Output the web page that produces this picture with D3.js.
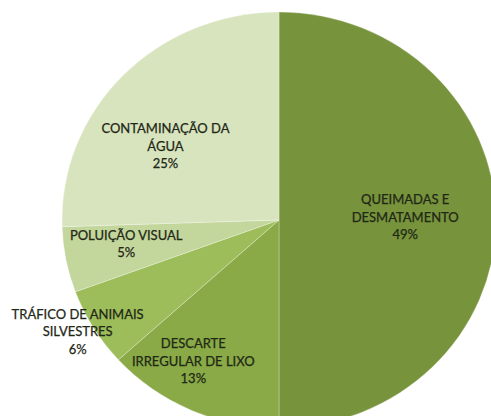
<!DOCTYPE html>
<html>
<head>
<meta charset="utf-8">
<script src="https://cdn.jsdelivr.net/npm/d3@7/dist/d3.min.js"></script>
<style>
  html, body { margin: 0; padding: 0; background: #fff; }
  svg { display: block; }
  .lbl { font-family: Lato, "Open Sans", sans-serif; font-size: 13px; fill: #1f2716; stroke: #1f2716; stroke-width: 0.25px; }
</style>
</head>
<body>
<svg id="chart" width="491" height="416"></svg>
<script>
// Causes of environmental damage, share of answers (%)
const categories = [
  "QUEIMADAS E DESMATAMENTO",
  "DESCARTE IRREGULAR DE LIXO",
  "TRÁFICO DE ANIMAIS SILVESTRES",
  "POLUIÇÃO VISUAL",
  "CONTAMINAÇÃO DA ÁGUA"
];
const values = [49, 13, 6, 5, 25];
// Label text split into lines, as printed on the chart
const labelLines = [
  ["QUEIMADAS E", "DESMATAMENTO"],
  ["DESCARTE", "IRREGULAR DE LIXO"],
  ["TRÁFICO DE ANIMAIS", "SILVESTRES"],
  ["POLUIÇÃO VISUAL"],
  ["CONTAMINAÇÃO DA", "ÁGUA"]
];
const colors = ["#77933c", "#89aa46", "#9cbd5a", "#c3d69c", "#d7e4be"];

// Layout
const width = 491, height = 416;
const cx = 279, cy = 220;
const rx = 217, ry = 208;
const labelRadius = 0.6;
// fine placement of each label relative to its slice centroid
const labelNudge = [[-4, -3], [-33, 27], [-90, 47], [-25, 0], [-20, 13]];
const lineHeight = 17.6;

const svg = d3.select("#chart");

const pie = d3.pie().sort(null).value(d => d.value);
const data = categories.map((c, i) => ({ name: c, value: values[i], lines: labelLines[i], color: colors[i], i }));
const arcs = pie(data);

const arc = d3.arc().innerRadius(0).outerRadius(ry);

const g = svg.append("g")
  .attr("transform", `translate(${cx},${cy}) scale(${rx / ry},1)`);

g.selectAll("path")
  .data(arcs)
  .join("path")
  .attr("d", arc)
  .attr("fill", d => d.data.color)
  .attr("stroke", "rgba(255,255,255,0.35)")
  .attr("stroke-width", 0.8);

const labels = svg.append("g");
arcs.forEach(d => {
  const a = (d.startAngle + d.endAngle) / 2;
  const [nx, ny] = labelNudge[d.data.i];
  const x = cx + Math.sin(a) * labelRadius * rx + nx;
  const y = cy - Math.cos(a) * labelRadius * ry + ny;
  const lines = d.data.lines.concat([Math.round(d.data.value) + "%"]);
  const n = lines.length;
  const t = labels.append("text")
    .attr("class", "lbl")
    .attr("text-anchor", "middle")
    .attr("x", x)
    .attr("y", y);
  lines.forEach((line, k) => {
    t.append("tspan")
      .attr("x", x)
      .attr("y", y + (k - (n - 1) / 2) * lineHeight)
      .attr("dy", "0.35em")
      .text(line);
  });
});
</script>
</body>
</html>
